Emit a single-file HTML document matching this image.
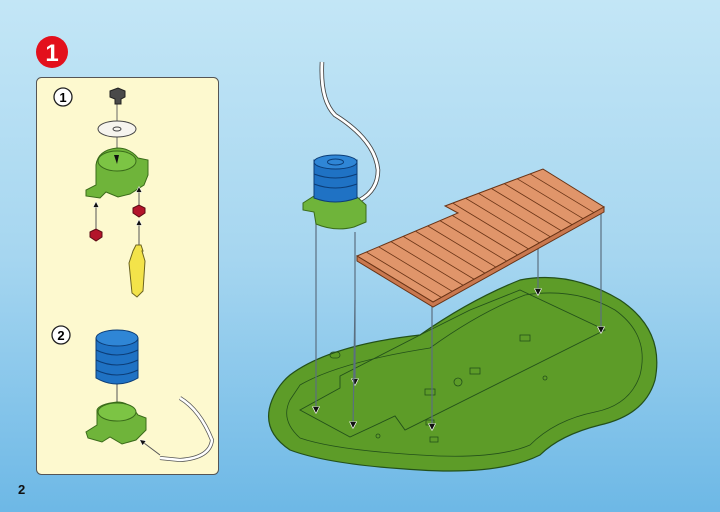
<!DOCTYPE html>
<html><head><meta charset="utf-8"><style>
html,body{margin:0;padding:0;width:720px;height:512px;overflow:hidden}
body{background:linear-gradient(#c3e6f6,#a6d6f0 50%,#6db8e6)}
svg{position:absolute;left:0;top:0}
</style></head><body>
<svg width="720" height="512" viewBox="0 0 720 512" font-family="Liberation Sans, sans-serif">
<defs>
<marker id="ar" viewBox="0 0 10 10" refX="9" refY="5" markerWidth="6" markerHeight="8" orient="auto"><path d="M0,0 L10,5 L0,10 z" fill="#111" stroke="#fff" stroke-width="1"/></marker>
<clipPath id="dk"><path d="M357,256 L433,302 L604,207 L543,169 L445,206 L458,213z"/></clipPath>
</defs>
<circle cx="52" cy="52" r="16" fill="#e3101c"/>
<text x="52" y="61" text-anchor="middle" font-size="24" font-weight="bold" fill="#fff">1</text>
<rect x="36.5" y="77.5" width="182" height="397" rx="5" fill="#fdf9cf" stroke="#555" stroke-width="1"/>
<circle cx="63" cy="97" r="9" fill="#fff" stroke="#222" stroke-width="1.3"/>
<text x="63" y="102" text-anchor="middle" font-size="13" font-weight="bold">1</text>
<circle cx="61" cy="335" r="9" fill="#fff" stroke="#222" stroke-width="1.3"/>
<text x="61" y="340" text-anchor="middle" font-size="13" font-weight="bold">2</text>
<line x1="117" y1="100" x2="117" y2="160" stroke="#666"/>
<path d="M110,91 l8,-3 l7,3 l0,6 l-4,2 l0,5 l-6,0 l0,-5 l-5,-2z" fill="#4a4a4a" stroke="#222"/>
<ellipse cx="117" cy="129" rx="19" ry="8" fill="#f6f4ee" stroke="#444"/>
<ellipse cx="117" cy="129" rx="4" ry="2" fill="none" stroke="#444"/>
<path d="M96,165 L96,185 L86,190 L86,196 L100,198 L106,192 L118,197 L130,194 L144,185 L148,175 L148,160 L138,158 Q130,148 117,148 Q98,150 96,165z" fill="#6fb43a" stroke="#3a6b1a"/>
<ellipse cx="117" cy="161" rx="19" ry="10" fill="#7cc444" stroke="#3a6b1a"/>
<path d="M114,155 l5,0 l-2,9z" fill="#111"/>
<line x1="96" y1="235" x2="96" y2="202" stroke="#555" marker-end="url(#ar)"/>
<line x1="139" y1="210" x2="139" y2="187" stroke="#555" marker-end="url(#ar)"/>
<line x1="139" y1="245" x2="139" y2="220" stroke="#555" marker-end="url(#ar)"/>
<path d="M90,232 l6,-3 l6,3 l0,5 l-6,4 l-6,-4z" fill="#b3142a" stroke="#5a0a14"/>
<path d="M133,208 l6,-3 l6,3 l0,5 l-6,4 l-6,-4z" fill="#b3142a" stroke="#5a0a14"/>
<path d="M136,245 l5,0 l2,6 l-1,0 l3,10 l-2,30 l-6,6 l-5,-4 l-3,-30 l4,-12z" fill="#f3e34a" stroke="#6b6320"/>
<line x1="117" y1="380" x2="117" y2="408" stroke="#555" marker-end="url(#ar)"/>
<path d="M96,338 Q117,326 138,338 L138,378 Q117,390 96,378z" fill="#1f72c4" stroke="#0c3d77"/>
<ellipse cx="117" cy="338" rx="21" ry="8" fill="#2f86d6" stroke="#0c3d77"/>
<path d="M96,350 Q117,360 138,350 M96,360 Q117,370 138,360 M96,370 Q117,380 138,370" fill="none" stroke="#0c3d77"/>
<path d="M97,410 L97,425 L86,432 L88,438 L102,442 L110,437 L122,444 L136,440 L146,430 L146,418 L138,415 Q130,402 117,402 Q99,404 97,410z" fill="#6fb43a" stroke="#3a6b1a"/>
<ellipse cx="117" cy="412" rx="19" ry="9" fill="#7cc444" stroke="#3a6b1a"/>
<path d="M180,398 Q200,410 212,440 Q210,458 180,460 L160,458" fill="none" stroke="#555" stroke-width="4"/>
<path d="M180,398 Q200,410 212,440 Q210,458 180,460 L160,458" fill="none" stroke="#fff" stroke-width="2.5"/>
<line x1="160" y1="455" x2="140" y2="440" stroke="#555" marker-end="url(#ar)"/>
<text x="18" y="494" font-size="13" font-weight="bold" fill="#111">2</text>
<path d="M290,375 Q330,345 420,335 Q470,300 520,280 Q570,270 620,300 Q665,330 655,380 Q645,415 600,425 Q560,435 540,455 Q500,475 420,470 Q330,465 290,450 Q260,430 272,400 Q278,385 290,375z" fill="#5d9c28" stroke="#23501a" stroke-width="1.2"/>
<path d="M300,385 Q340,362 430,348 Q480,312 525,295 Q575,287 615,310 Q650,335 640,375 Q630,405 595,412 Q555,420 530,445 Q495,460 420,455 Q335,450 300,438 Q280,420 290,400z" fill="none" stroke="#23501a" stroke-width="0.8"/>
<path d="M300,410 L340,388 L340,376 L420,335 L470,310 L520,290 L605,330 L405,430 L395,416 L350,437z" fill="none" stroke="#23501a" stroke-width="0.9"/>
<g fill="none" stroke="#23501a" stroke-width="0.8">
<rect x="330" y="352" width="10" height="6" rx="3"/><rect x="426" y="420" width="8" height="5"/><rect x="430" y="437" width="8" height="5"/>
<rect x="520" y="335" width="10" height="6"/><rect x="470" y="368" width="10" height="6"/><rect x="425" y="389" width="10" height="6"/>
<circle cx="458" cy="382" r="4"/><circle cx="378" cy="436" r="2"/><circle cx="545" cy="378" r="2"/>
</g>
<g stroke="#5b6f80" stroke-width="1.2" marker-end="url(#ar)">
<line x1="316" y1="222" x2="316" y2="413"/>
<line x1="355" y1="232" x2="355" y2="385"/>
<line x1="355" y1="300" x2="353" y2="428"/>
<line x1="432" y1="302" x2="432" y2="430"/>
<line x1="538" y1="245" x2="538" y2="295"/>
<line x1="601" y1="210" x2="601" y2="333"/>
</g>
<path d="M322,62 Q320,100 335,115 Q375,140 378,170 Q378,190 360,200" fill="none" stroke="#444" stroke-width="4.5"/>
<path d="M322,62 Q320,100 335,115 Q375,140 378,170 Q378,190 360,200" fill="none" stroke="#fff" stroke-width="2.8"/>
<path d="M303,203 L314,196 L356,196 L366,205 L366,222 L354,227 Q335,232 316,224 L314,212 L303,210z" fill="#6fb43a" stroke="#3a6b1a"/>
<path d="M314,160 L357,160 L357,198 Q335,206 314,198z" fill="#1f72c4" stroke="#0c3d77"/>
<ellipse cx="335.5" cy="162" rx="21.5" ry="7" fill="#2f86d6" stroke="#0c3d77"/>
<ellipse cx="335.5" cy="162" rx="8" ry="3" fill="none" stroke="#0c3d77"/>
<path d="M314,174 Q335,182 357,174 M314,184 Q335,192 357,184" fill="none" stroke="#0c3d77"/>
<path d="M357,256 L433,302 L604,207 L543,169 L445,206 L458,213z" fill="#e0956a" stroke="#6a3416"/>
<path d="M357,256 L357,261 L433,307 L604,212 L604,207 L433,302z" fill="#c9784f" stroke="#6a3416"/>
<g stroke="#6a3416" stroke-width="0.8" clip-path="url(#dk)">
<line x1="297" y1="286" x2="449" y2="378"/>
<line x1="308" y1="280" x2="460" y2="372"/><line x1="319" y1="274" x2="471" y2="366"/><line x1="330" y1="268" x2="482" y2="360"/>
<line x1="341" y1="262" x2="493" y2="354"/><line x1="352" y1="256" x2="504" y2="348"/><line x1="363" y1="250" x2="515" y2="342"/>
<line x1="374" y1="244" x2="526" y2="336"/><line x1="385" y1="238" x2="537" y2="330"/><line x1="396" y1="232" x2="548" y2="324"/>
<line x1="407" y1="226" x2="559" y2="318"/><line x1="418" y1="220" x2="570" y2="312"/><line x1="429" y1="214" x2="581" y2="306"/>
<line x1="440" y1="208" x2="592" y2="300"/><line x1="451" y1="202" x2="603" y2="294"/><line x1="462" y1="196" x2="614" y2="288"/>
<line x1="473" y1="190" x2="625" y2="282"/><line x1="484" y1="184" x2="636" y2="276"/><line x1="495" y1="178" x2="647" y2="270"/>
<line x1="506" y1="172" x2="658" y2="264"/><line x1="517" y1="166" x2="669" y2="258"/><line x1="528" y1="160" x2="680" y2="252"/>
</g>
</svg>
</body></html>
